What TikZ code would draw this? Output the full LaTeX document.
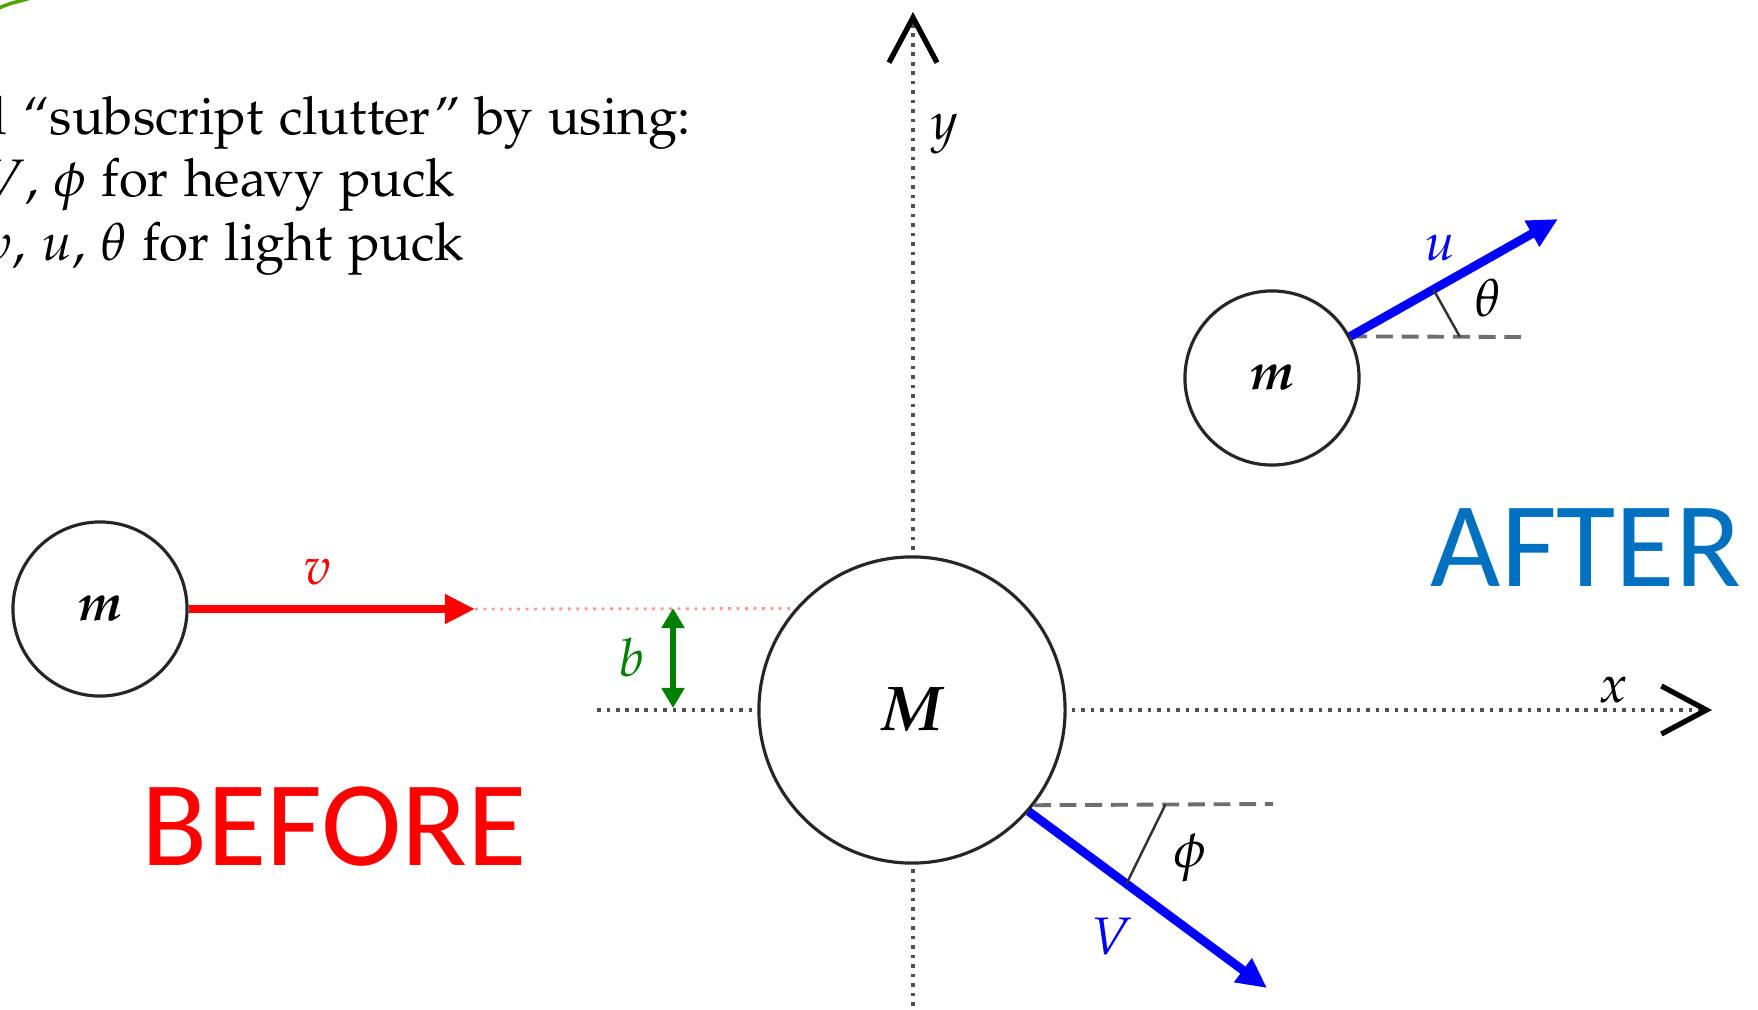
\documentclass[tikz,border=0pt]{standalone}
\usepackage[T1]{fontenc}
\usepackage[sc]{mathpazo}
\usepackage[no-math]{fontspec}
\newfontfamily\calibfont{Carlito}
\usepackage{xcolor}
\usepackage{amsmath}
\usepackage{bm}
\usepackage{tikz}
\usetikzlibrary{arrows.meta, calc}
\definecolor{velred}{RGB}{255,0,0}
\definecolor{velblue}{RGB}{0,0,255}
\definecolor{impgreen}{RGB}{0,128,0}
\definecolor{trailpink}{RGB}{255,150,150}
\definecolor{axisgray}{RGB}{80,80,80}
\definecolor{dashgray}{RGB}{110,110,110}
\definecolor{afterblue}{RGB}{0,112,192}
\tikzstyle{puck}  = [circle, draw=black!85, line width=0.9pt, fill=white, inner sep=0pt,
                     minimum size=1.74cm, font=\fontsize{15}{18}\selectfont]
\tikzstyle{heavy} = [puck, minimum size=3.06cm, font=\fontsize{18}{21}\selectfont]
\tikzstyle{axis}  = [axisgray, line width=1.1pt, dash pattern=on 1pt off 1.7pt,
                     -{Straight Barb[length=4.5mm, width=4.8mm, line width=1.5pt, color=black]}]
\tikzstyle{vel}   = [line width=2.5pt, -{Triangle[length=3mm, width=2.8mm]}]
\tikzstyle{ref}   = [dashgray, line width=1.1pt, dash pattern=on 4.8pt off 2.5pt]
\tikzstyle{tick}  = [black!80, line width=0.7pt]
\tikzstyle{lbl}   = [inner sep=0pt, font=\fontsize{15}{18}\selectfont]
\tikzstyle{note}  = [anchor=base east, inner sep=0pt,
                     font=\fontencoding{T1}\fontfamily{pplx}\fontsize{15}{18}\selectfont]
\tikzstyle{phase} = [inner sep=0pt, font=\calibfont\fontsize{34.5}{40}\selectfont]

\begin{document}
\begin{tikzpicture}[x=0.01cm, y=-0.01cm]
    \useasboundingbox (0,0) rectangle (1758,1010);
    \clip (0,0) rectangle (1758,1010);
    \draw[impgreen!70!yellow, line width=1pt] (-3,9) .. controls (8,4) .. (28,-1);

    % axes
    \coordinate (xl) at (597,710);
    \coordinate (xr) at (1712,710);
    \coordinate (yb) at (913,1015);
    \coordinate (yt) at (913,12);
    \draw[axis] (xl) -- (xr);
    \draw[axis] (yb) -- (yt);
    \node[lbl] (xlab) at (1613,690) {$x$};
    \node[lbl] (ylab) at (945,134) {$y$};

    % pucks
    \node[puck]  (m1) at (100,609)  {$\bm{m}$};
    \node[heavy] (M)  at (912,710)  {$\bm{M}$};
    \node[puck]  (m2) at (1272,378) {$\bm{m}$};

    % before
    \coordinate (vtip) at (475,609);
    \draw[vel, velred] (m1) -- (vtip);
    \draw[trailpink, line width=0.8pt, dash pattern=on 0.8pt off 1.6pt] (vtip) -- (M.139);
    \node[lbl, velred] (vlab) at (318,572) {$v$};
    \coordinate (btop) at (673,608);
    \coordinate (bbot) at (673,708);
    \draw[impgreen, line width=1.8pt, {Triangle[length=2mm, width=2.2mm]}-{Triangle[length=2mm, width=2.2mm]}]
        (btop) -- (bbot);
    \node[lbl, impgreen] (blab) at (632,658) {$b$};

    % after
    \coordinate (utip) at (1558,219);
    \coordinate (thref) at (1527,337);
    \draw[ref] (m2.28) -- (thref);
    \draw[vel, velblue] (m2.28) -- (utip);
    \draw[tick] ($(m2.28)!0.4!(utip)$) -- ($(m2.28)!0.62!(thref)$);
    \node[lbl, velblue] (ulab) at (1440,248) {$u$};
    \node[lbl] (thlab) at (1488,298) {$\theta$};

    \coordinate (Vtip) at (1267,988);
    \coordinate (phref) at (1273,804);
    \draw[ref] (M.-38) -- (phref);
    \draw[vel, velblue] (M.-41) -- (Vtip);
    \draw[tick] ($(M.-38)!0.55!(phref)$) -- ($(M.-41)!0.41!(Vtip)$);
    \node[lbl] (phlab) at (1190,858) {$\phi$};
    \node[lbl, velblue] (Vlab) at (1112,937) {$V$};

    \node[phase, velred] (before) at (334,827) {BEFORE};
    \node[phase, afterblue] (after) at (1586,548) {AFTER};

    % notes
    \node[note, anchor=base west] (line1) at (-25,135) {d ``subscript clutter'' by using:};
    \node[note] (line2) at (456,197) {$V$, $\phi$ for heavy puck};
    \node[note] (line3) at (465,261) {$v$, $u$, $\theta$ for light puck};
\end{tikzpicture}
\end{document}
